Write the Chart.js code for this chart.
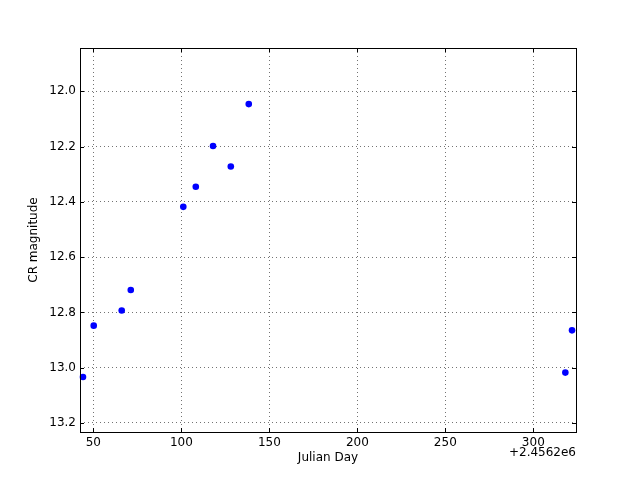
<!DOCTYPE html>
<html><head><meta charset="utf-8">
<script src="https://cdn.jsdelivr.net/npm/chart.js@4/dist/chart.umd.min.js"></script>
<style>html,body{margin:0;padding:0;background:#fff;}canvas{display:block;}</style>
</head><body>
<canvas id="c" width="640" height="480"></canvas>
<script>
const JD_OFFSET = 2456200;
const julianDays = [2456244.1, 2456250.2, 2456266.1, 2456271.25, 2456301.1, 2456308.2, 2456318.0, 2456328.1, 2456338.3, 2456518.2, 2456522.0];
const magnitudes = [13.034, 12.848, 12.793, 12.719, 12.418, 12.345, 12.198, 12.272, 12.046, 13.018, 12.865];
const xTickValues = [50, 100, 150, 200, 250, 300];
const yTickValues = [12.0, 12.2, 12.4, 12.6, 12.8, 13.0, 13.2];
const offsetLabel = '+2.4562e6';

const FONT = {family: 'DejaVu Sans', size: 12};

const framePlugin = {
  id: 'frame',
  afterDraw(chart) {
    const {ctx, chartArea: a, scales} = chart;
    ctx.save();
    ctx.strokeStyle = '#000';
    ctx.lineWidth = 1;
    ctx.beginPath();
    scales.x.ticks.forEach(t => {
      const px = Math.round(scales.x.getPixelForValue(t.value)) + 0.5;
      ctx.moveTo(px, a.bottom); ctx.lineTo(px, a.bottom - 4);
      ctx.moveTo(px, a.top); ctx.lineTo(px, a.top + 4);
    });
    scales.y.ticks.forEach(t => {
      const py = Math.round(scales.y.getPixelForValue(t.value)) + 0.5;
      ctx.moveTo(a.left, py); ctx.lineTo(a.left + 4, py);
      ctx.moveTo(a.right, py); ctx.lineTo(a.right - 4, py);
    });
    ctx.stroke();
    ctx.strokeRect(a.left + 0.5, a.top + 0.5, a.right - a.left, a.bottom - a.top);
    ctx.fillStyle = '#000';
    ctx.font = '12px "DejaVu Sans"';
    ctx.textAlign = 'right';
    ctx.textBaseline = 'middle';
    ctx.fillText(offsetLabel, a.right, 453);
    ctx.restore();
  }
};

new Chart(document.getElementById('c'), {
  type: 'scatter',
  data: {
    datasets: [{
      data: julianDays.map((x, i) => ({x: x, y: magnitudes[i]})),
      backgroundColor: '#0000ff',
      borderWidth: 0,
      pointRadius: 3.3,
      pointHoverRadius: 3.3,
      clip: false
    }]
  },
  options: {
    responsive: false,
    animation: false,
    events: [],
    layout: {padding: {left: 0, top: 48, right: 64, bottom: 0}},
    plugins: {legend: {display: false}, tooltip: {enabled: false}},
    scales: {
      x: {
        type: 'linear',
        min: 2456242.4,
        max: 2456524.26,
        afterBuildTicks: s => { s.ticks = xTickValues.map(v => ({value: v + JD_OFFSET})); },
        afterFit: s => { s.height = 48; },
        ticks: {
          color: '#000', font: FONT, padding: 4, maxRotation: 0, autoSkip: false,
          callback: v => String(Math.round(v - JD_OFFSET))
        },
        grid: {color: 'rgba(0,0,0,0.55)', lineWidth: 1, drawTicks: false},
        border: {display: false, dash: [1, 3]},
        title: {display: true, text: 'Julian Day', color: '#000', font: FONT, padding: {top: 0, bottom: 15}}
      },
      y: {
        type: 'linear',
        reverse: true,
        min: 11.843,
        max: 13.233,
        afterBuildTicks: s => { s.ticks = yTickValues.map(v => ({value: v})); },
        afterFit: s => { s.width = 80; },
        ticks: {
          color: '#000', font: FONT, padding: 4, autoSkip: false,
          callback: v => Number(v).toFixed(1)
        },
        grid: {color: 'rgba(0,0,0,0.55)', lineWidth: 1, drawTicks: false},
        border: {display: false, dash: [1, 3]},
        title: {display: true, text: 'CR magnitude', color: '#000', font: FONT, padding: {top: 27, bottom: 0}}
      }
    }
  },
  plugins: [framePlugin]
});
</script>
</body></html>
